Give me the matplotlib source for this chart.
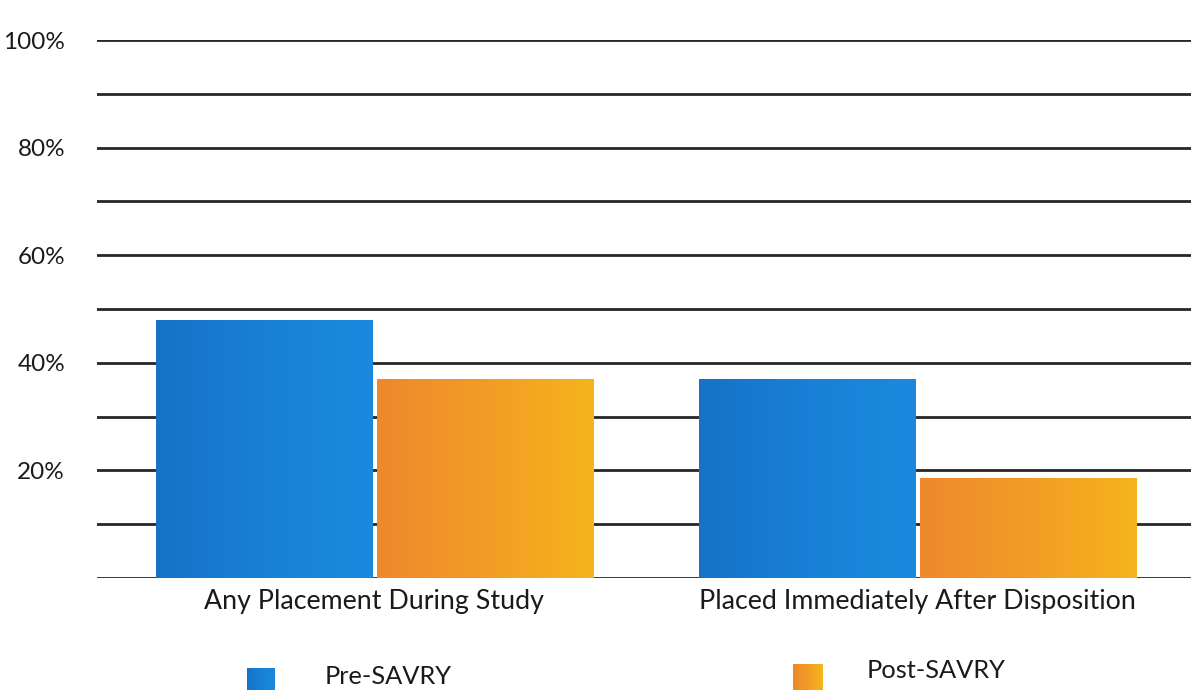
import numpy as np
import matplotlib
matplotlib.use("Agg")
import matplotlib.pyplot as plt
from matplotlib.colors import LinearSegmentedColormap

# ── Data ──────────────────────────────────────────────────────────────────────
categories = ["Any Placement During Study", "Placed Immediately After Disposition"]
series_names = ["Pre-SAVRY", "Post-SAVRY"]
pre_savry = [48, 37]
post_savry = [37, 18.5]
y_ticks = [20, 40, 60, 80, 100]
y_grid = [0, 10, 20, 30, 40, 50, 60, 70, 80, 90, 100]

# ── Style ─────────────────────────────────────────────────────────────────────
plt.rcParams["font.family"] = ["Lato", "DejaVu Sans"]
TEXT_COLOR = "#1a1a1a"
blue_cmap = LinearSegmentedColormap.from_list("blue", ["#1572c8", "#1880d6", "#1b8ade"])
orange_cmap = LinearSegmentedColormap.from_list("orange", ["#ee882c", "#f29c26", "#f6b41c"])

fig = plt.figure(figsize=(11.91, 6.90), dpi=100)
ax = fig.add_axes([0.0814, 0.1623, 0.9186, 0.7797])

x = np.arange(len(categories))
width = 0.398
offset = 0.203


def gradient_bars(ax, xs, heights, cmap):
    bars = ax.bar(xs, heights, width, color="none", edgecolor="none", zorder=3)
    grad = np.linspace(0, 1, 256).reshape(1, -1)
    for b in bars:
        x0, y0 = b.get_x(), b.get_y()
        im = ax.imshow(grad, cmap=cmap, aspect="auto", zorder=3,
                       extent=[x0, x0 + b.get_width(), y0, y0 + b.get_height()])
        im.set_clip_path(b)
    return bars


gradient_bars(ax, x - offset, pre_savry, blue_cmap)
gradient_bars(ax, x + offset, post_savry, orange_cmap)

for g in y_grid:
    ax.axhline(g, color="#262626", linewidth=2.0, zorder=1)

ax.set_xlim(-0.511, 1.504)
ax.set_ylim(0, 100)
ax.set_yticks(y_ticks)
ax.set_yticklabels([f"{t}%" for t in y_ticks], fontsize=17.5, color=TEXT_COLOR)
ax.set_xticks(x)
ax.set_xticklabels(categories, fontsize=19.3, color=TEXT_COLOR)
ax.tick_params(axis="y", length=0, pad=23)
ax.tick_params(axis="x", length=0, pad=8)
for s in ax.spines.values():
    s.set_visible(False)

# ── Legend (manual, bottom, partially cut off) ───────────────────────────────
W, H = 1191, 690
leg = [(247, 668, 28, blue_cmap, 325, 677, series_names[0]),
       (793, 664, 30, orange_cmap, 867, 671, series_names[1])]
for px, py, size, cmap, tx, ty, label in leg:
    lax = fig.add_axes([px / W, 1 - (py + size) / H, size / W, size / H])
    lax.imshow(np.linspace(0, 1, 64).reshape(1, -1), cmap=cmap, aspect="auto")
    lax.axis("off")
    fig.text(tx / W, 1 - ty / H, label, fontsize=18.3, color=TEXT_COLOR,
             ha="left", va="center")

fig.savefig("out.png", dpi=100)
